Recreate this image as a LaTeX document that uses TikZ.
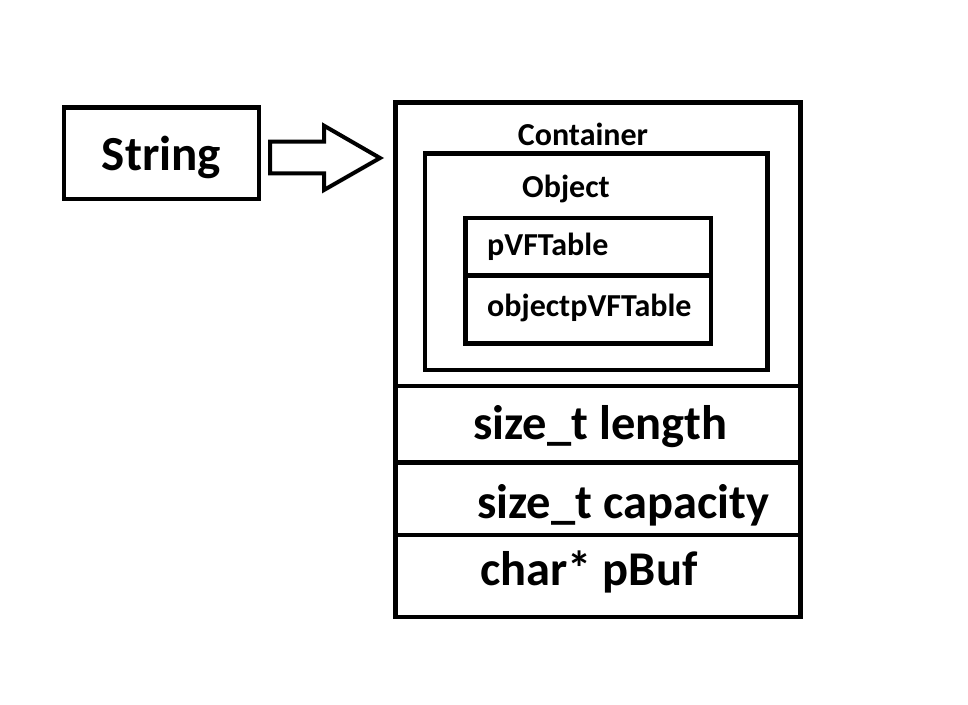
\documentclass[tikz,border=0pt]{standalone}
\usepackage{fontspec}
\setmainfont{Carlito}
\usetikzlibrary{positioning}
\tikzset{
    frame/.style={draw,line width=4.5pt,inner sep=0pt,outer sep=0pt},
    bigtext/.style={inner sep=0pt,font=\bfseries\fontsize{48.5}{52}\selectfont},
    smalltext/.style={inner sep=0pt,font=\bfseries\fontsize{32}{35}\selectfont},
}
\begin{document}
\begin{tikzpicture}[x=1pt,y=-1pt]
    \useasboundingbox (0,0) rectangle (968,704);
    %% String
    \node[frame,minimum width=195pt,minimum height=91.5pt,text height=43pt,font=\bfseries\fontsize{49}{53}\selectfont] (string) at (161.5,153.3) {String};
    %% arrow
    \draw[line width=4pt,line join=miter] (270,141.7) -- (324,141.7) -- (324,125.7) -- (380,158)
        -- (324,190) -- (324,173.3) -- (270,173.3) -- cycle;
    %% Container
    \node[frame,minimum width=404.8pt,minimum height=283.3pt] (base) at (598,244.15) {};
    \node[frame,minimum width=404.8pt,minimum height=76.7pt,below=0pt of base] (length) {};
    \node[frame,minimum width=404.8pt,minimum height=72.5pt,below=0pt of length] (capacity) {};
    \node[frame,minimum width=404.8pt,minimum height=82pt,below=0pt of capacity] (pbuf) {};
    \node[smalltext] (containername) at (583,134) {Container};
    %% Object
    \node[frame,minimum width=342.5pt,minimum height=216.5pt] (object) at (596.25,261.75) {};
    \node[smalltext] (objectname) at (566,189) {Object};
    \node[frame,minimum width=245.5pt,minimum height=57.5pt] (pvf) at (588.25,246.75) {};
    \node[frame,minimum width=245.5pt,minimum height=68pt,below=0pt of pvf] (objpvf) {};
    %% fields
    \node[smalltext,anchor=west] (pvftext) at (487,247) {pVFTable};
    \node[smalltext,anchor=west] (objpvftext) at (487,308) {objectpVFTable};
    \node[bigtext,anchor=west] (lengthtext) at (473,427) {size\_t length};
    \node[bigtext,anchor=west] (capacitytext) at (477,505) {size\_t capacity};
    \node[bigtext,anchor=west] (pbuftext) at (480,572) {char* pBuf};
\end{tikzpicture}
\end{document}
